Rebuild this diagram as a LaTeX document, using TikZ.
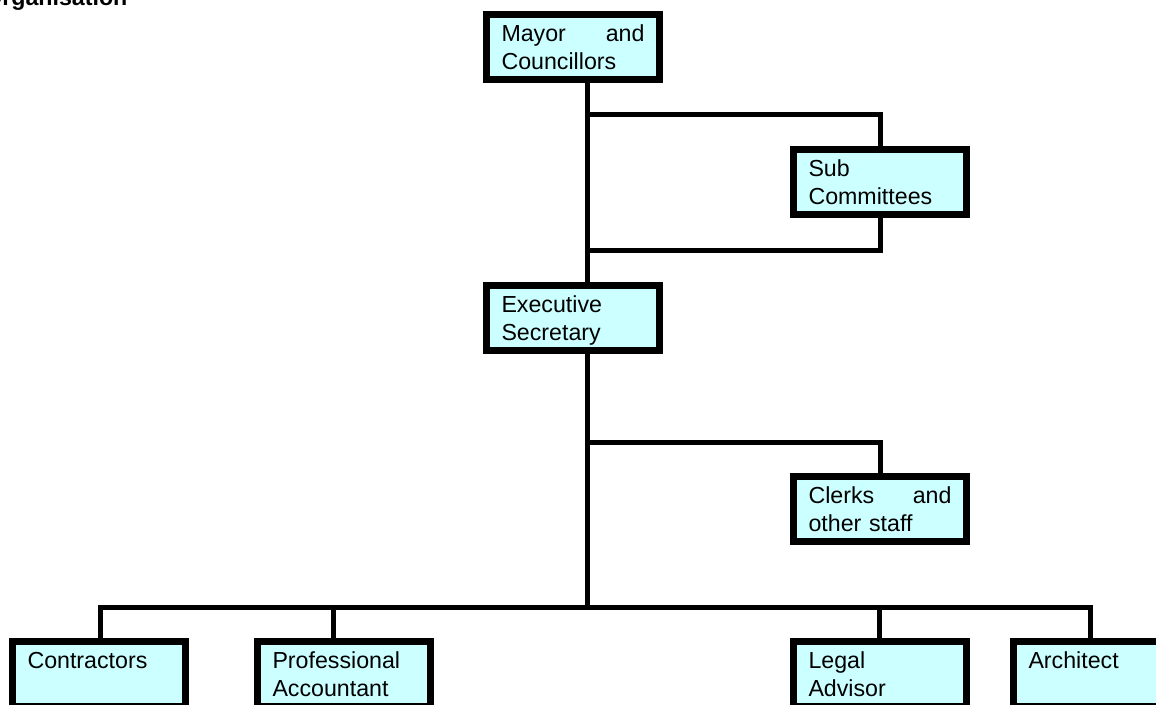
\documentclass[tikz,border=0pt]{standalone}
\usepackage{fontspec}
\setmainfont{Liberation Sans}
\definecolor{boxcyan}{RGB}{204,255,255}
\newcommand{\boxfont}{\fontsize{17.4}{21.4}\selectfont}
\newcommand{\gapfill}{\hspace{0pt plus 1filll}}
\tikzset{
    orgbox/.style={draw, line width=5.25pt, fill=boxcyan, anchor=north west,
        outer sep=0pt, inner xsep=11.25pt, inner ysep=0pt,
        minimum width=129.75pt, text width=107.25pt,
        text height=19.9pt, text depth=28.9pt, align=left, font=\boxfont},
    wire/.style={line width=3.75pt}
}
\begin{document}
\begin{tikzpicture}[x=0.75pt, y=-0.75pt]
    \useasboundingbox (0,0) rectangle (1156,704);
    \clip (0,0) rectangle (1156,704);

    % Heading
    \node[anchor=base west, inner sep=0pt, font=\boxfont\bfseries] (title) at (-16,5) {Organisation};

    % Boxes
    \node[orgbox] (mayor) at (486.5,14.5) {Mayor\gapfill and\\Councillors};
    \node[orgbox] (subcom) at (793.5,149.5) {Sub\\Committees};
    \node[orgbox] (exec) at (486.5,285.5) {Executive\\Secretary};
    \node[orgbox] (clerks) at (793.5,476.5) {Clerks\gapfill and\\other staff};
    \node[orgbox] (contract) at (12.5,641.5) {Contractors};
    \node[orgbox] (account) at (257.5,641.5) {Professional\\Accountant};
    \node[orgbox] (legal) at (793.5,641.5) {Legal\\Advisor};
    \node[orgbox] (archit) at (1013.5,641.5) {Architect};

    % Junctions
    \coordinate (j1) at (587,114.5);
    \coordinate (j2) at (587,250);
    \coordinate (j3) at (587,442.5);
    \coordinate (j4) at (587,607);
    \coordinate (b1) at (100,607);
    \coordinate (b2) at (333,607);
    \coordinate (b3) at (879,607);
    \coordinate (b4) at (1090,607);

    % Trunk
    \draw[wire] (mayor.south -| j1) -- (exec.north -| j1);
    \draw[wire] (exec.south -| j1) -- (j4);

    % Side branches
    \draw[wire] (j1) -| (subcom.north);
    \draw[wire] (subcom.south) |- (j2);
    \draw[wire] (j3) -| (clerks.north);

    % Bottom bar
    \draw[wire] (b1 |- contract.north) -- (b1) -- (b4) -- (b4 |- archit.north);
    \draw[wire] (b2) -- (b2 |- account.north);
    \draw[wire] (b3) -- (b3 |- legal.north);
\end{tikzpicture}
\end{document}
